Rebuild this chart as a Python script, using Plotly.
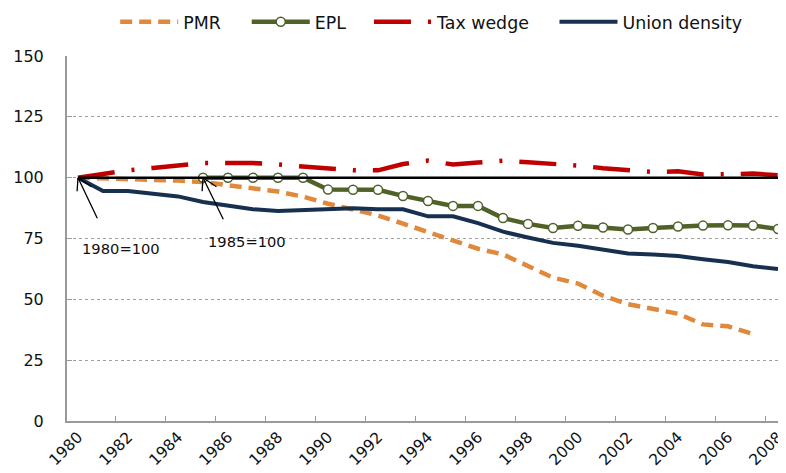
import plotly.graph_objects as go

years = list(range(1980, 2009))

pmr_years = list(range(1980, 2008))
pmr = [100, 99.8, 99.6, 99.0, 98.8, 98.2, 96.9, 95.9, 94.3, 92.2, 89.3, 86.9, 84.5,
       81.1, 77.7, 74.0, 70.8, 68.5, 63.6, 58.9, 56.5, 51.5, 48.0, 46.0, 44.1, 39.7,
       38.9, 35.8]

epl_years = list(range(1985, 2009))
epl = [100, 100, 100, 100, 100, 95.1, 95.0, 95.0, 92.5, 90.4, 88.4, 88.4, 83.4, 81.0,
       79.3, 80.2, 79.5, 78.7, 79.3, 79.9, 80.3, 80.4, 80.3, 78.9]

tax_wedge = [100, 101.5, 103.0, 104.0, 105.0, 106.0, 106.0, 106.0, 105.4, 104.5, 104.0,
             103.0, 103.0, 105.6, 107.0, 105.4, 106.2, 107.0, 106.3, 105.8, 105.0, 103.9,
             103.0, 102.3, 102.6, 101.3, 101.4, 101.7, 101.0]

union_density = [100, 94.5, 94.5, 93.5, 92.3, 90.0, 88.3, 87.0, 86.3, 86.7, 87.3, 87.4,
                 87.0, 87.0, 84.1, 84.1, 81.3, 77.8, 75.4, 73.2, 72.0, 70.3, 68.8, 68.4,
                 67.8, 66.5, 65.3, 63.6, 62.5]

base = [100] * len(years)

label_years = list(range(1980, 2009, 2))
tick_years = [y + 1.5 for y in range(1980, 2008, 2)]
y_ticks = [0, 25, 50, 75, 100, 125, 150]

FONT = "DejaVu Sans"
TXT = "#111111"

fig = go.Figure()
fig.add_trace(go.Scatter(x=pmr_years, y=pmr, name="PMR", mode="lines", legend="legend",
                         line=dict(color="#E0883C", width=4.5, dash="12px,7px")))
fig.add_trace(go.Scatter(x=epl_years, y=epl, name="EPL", mode="lines+markers",
                         legend="legend2",
                         line=dict(color="#4F6228", width=4.5),
                         marker=dict(symbol="circle", size=9, color="white",
                                     line=dict(color="#4F6228", width=1.5))))
fig.add_trace(go.Scatter(x=years, y=tax_wedge, name="Tax wedge", mode="lines",
                         legend="legend3",
                         line=dict(color="#C00000", width=4.5,
                                   dash="37px,17px,3px,17px")))
fig.add_trace(go.Scatter(x=years, y=union_density, name="Union density", mode="lines",
                         legend="legend4", line=dict(color="#17304F", width=4)))
fig.add_trace(go.Scatter(x=years, y=base, mode="lines", showlegend=False,
                         line=dict(color="black", width=2.5), hoverinfo="skip"))
# invisible trace to activate the label axis
fig.add_trace(go.Scatter(x=[years[0]], y=[100], xaxis="x2", mode="markers",
                         marker=dict(opacity=0), showlegend=False, hoverinfo="skip"))


def leg(x):
    return dict(orientation="h", x=x, xanchor="left", xref="paper",
                y=0.970, yref="container", yanchor="middle",
                font=dict(family=FONT, size=17.4, color=TXT), itemwidth=58,
                bgcolor="rgba(0,0,0,0)")


xr = [1979.56, 2008.32]
fig.update_layout(
    width=778, height=465,
    margin=dict(l=59, r=0, t=48, b=52),
    paper_bgcolor="white", plot_bgcolor="white",
    font=dict(family=FONT, color=TXT),
    xaxis=dict(range=xr, tickvals=tick_years, ticktext=[""] * len(tick_years),
               ticks="inside", ticklen=5, tickcolor="#9A9A9A", tickwidth=1,
               showgrid=False, zeroline=False, showline=True, linecolor="#9A9A9A",
               linewidth=2, automargin=False),
    xaxis2=dict(range=xr, overlaying="x", anchor="y", side="bottom",
                tickvals=label_years, ticktext=[str(y) for y in label_years],
                tickangle=-45, ticks="", showgrid=False, zeroline=False,
                showline=False, ticklabelstandoff=3, ticklabeloverflow="allow",
                automargin=False,
                tickfont=dict(family=FONT, size=15.5, color=TXT)),
    yaxis=dict(range=[0, 150], tickvals=y_ticks, ticks="inside", ticklen=5,
               tickcolor="#9A9A9A", showgrid=True, gridcolor="#A0A0A0", griddash="dot",
               gridwidth=1, zeroline=False, showline=True, linecolor="#9A9A9A",
               linewidth=2, ticklabelstandoff=18, automargin=False,
               tickfont=dict(family=FONT, size=16, color=TXT)),
    legend=leg(0.067),
    legend2=leg(0.250),
    legend3=leg(0.420),
    legend4=leg(0.678),
    showlegend=True,
)

annots = []
for yr, tail, barb2 in [(1980, (20, 42), (15, 10)), (1985, (21, 43), (15, 10))]:
    annots.append(dict(x=yr, y=100, xref="x", yref="y", text="", showarrow=True,
                       arrowhead=0, arrowwidth=1.3, arrowcolor="black",
                       ax=tail[0], ay=tail[1]))
    annots.append(dict(x=yr, y=100, xref="x", yref="y", text="", showarrow=True,
                       arrowhead=0, arrowwidth=1.3, arrowcolor="black", ax=-1, ay=15))
    annots.append(dict(x=yr, y=100, xref="x", yref="y", text="", showarrow=True,
                       arrowhead=0, arrowwidth=1.3, arrowcolor="black",
                       ax=barb2[0], ay=barb2[1]))
annots.append(dict(x=1981.72, y=71.0, xref="x", yref="y", text="1980=100",
                   showarrow=False, font=dict(family=FONT, size=14.7, color=TXT)))
annots.append(dict(x=1986.76, y=73.9, xref="x", yref="y", text="1985=100",
                   showarrow=False, font=dict(family=FONT, size=14.7, color=TXT)))
fig.update_layout(annotations=annots)

fig.write_html("out.html")
